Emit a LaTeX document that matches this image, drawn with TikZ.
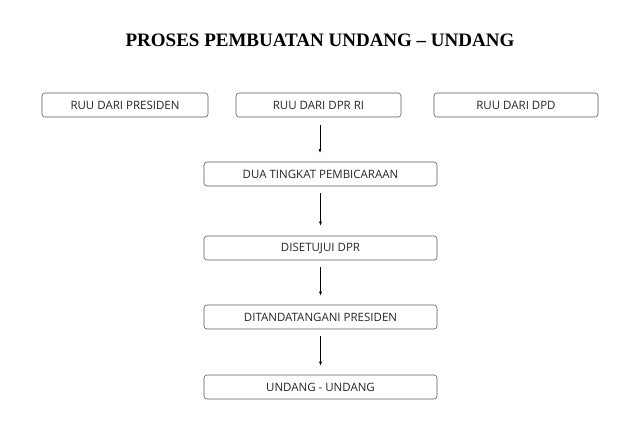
\documentclass[tikz,border=0pt]{standalone}
\usepackage{fontspec}
\setmainfont{Open Sans}
\newfontfamily\titlefont{Liberation Serif}
\usetikzlibrary{arrows.meta}
\begin{document}
\begin{tikzpicture}[x=1pt,y=-1pt,
  box/.style={draw=gray!70!black,line width=0.6pt,rounded corners=3pt,inner sep=0pt,font=\fontsize{11.5}{12}\selectfont,text=black!85},
  arr/.style={-{Latex[length=4pt,width=3pt]},line width=0.6pt}]
\useasboundingbox (0,0) rectangle (640,426);
\node[font=\titlefont\bfseries\fontsize{19}{21}\selectfont] (title) at (320,40) {PROSES PEMBUATAN UNDANG \textendash{} UNDANG};
\node[box,minimum width=166pt,minimum height=24pt] (pres) at (125,105) {RUU DARI PRESIDEN};
\node[box,minimum width=165pt,minimum height=24pt] (dpr) at (318.5,105) {RUU DARI DPR RI};
\node[box,minimum width=164pt,minimum height=24pt] (dpd) at (516,105) {RUU DARI DPD};
\node[box,minimum width=233pt,minimum height=24pt] (dua) at (320.5,174) {DUA TINGKAT PEMBICARAAN};
\node[box,minimum width=233pt,minimum height=24pt] (set) at (320.5,248) {DISETUJUI DPR};
\node[box,minimum width=233pt,minimum height=24pt] (ttd) at (320.5,317) {DITANDATANGANI PRESIDEN};
\node[box,minimum width=233pt,minimum height=24pt] (uu) at (320.5,387) {UNDANG - UNDANG};
\coordinate (d1) at (320,117);
\coordinate (d2) at (320,162);
\draw[arr,shorten <=8pt,shorten >=9pt] (d1) -- (d2);
\draw[arr,shorten <=7pt,shorten >=10pt] (dua.south) -- (set.north);
\draw[arr,shorten <=7pt,shorten >=9pt] (set.south) -- (ttd.north);
\draw[arr,shorten <=7pt,shorten >=9pt] (ttd.south) -- (uu.north);
\end{tikzpicture}
\end{document}
